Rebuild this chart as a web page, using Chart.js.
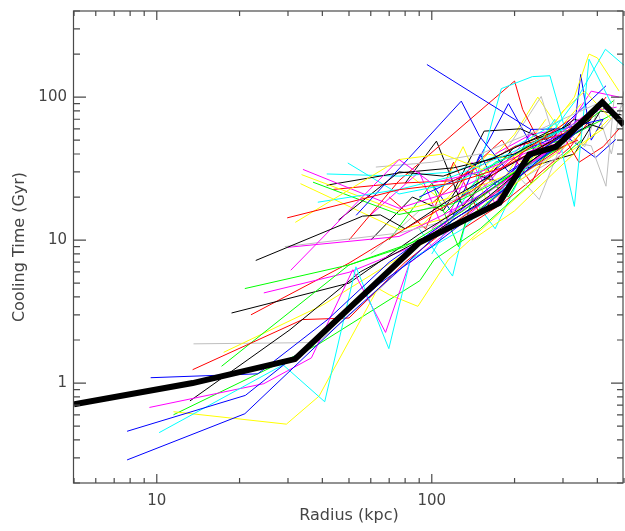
<!DOCTYPE html>
<html>
<head>
<meta charset="utf-8">
<script src="https://cdn.jsdelivr.net/npm/chart.js@4.4.1/dist/chart.umd.min.js"></script>
<style>
  body { margin: 0; background: #fff; }
  canvas { display: block; }
</style>
</head>
<body>
<canvas id="graph" width="625" height="531"></canvas>
<script>
// cooling time profiles, one pair of arrays per cluster (radius in kpc, time in Gyr)
const radius = [
    [7.8, 20.9, 50, 75, 120, 180, 260, 350],
    [7.8, 21, 40, 65, 100, 160, 240, 330],
    [9.5, 23.3, 42, 70, 110, 170, 260, 400],
    [10.2, 28.8, 40.8, 53, 69.8, 83.6, 130, 200, 310],
    [9.4, 24.5, 36.5, 51.6, 67.9, 83, 130, 210, 320],
    [11.5, 29.6, 38.9, 63.7, 70, 89, 115, 180, 280, 420],
    [11.5, 38.4, 90.5, 102, 150, 230, 350],
    [13.2, 30.5, 55, 100, 160, 240, 380],
    [13.5, 33.9, 50, 80, 120, 190, 300],
    [17.2, 50, 80, 130, 200, 300],
    [17.5, 40, 80, 140, 220, 350],
    [13.6, 38.4, 60, 100, 170, 280],
    [20.9, 50, 90, 140, 220, 350],
    [24.5, 50, 85, 140, 230, 340],
    [18.7, 50, 90, 150, 250, 380],
    [22, 50, 80, 140, 210, 320],
    [22.9, 56, 65, 80, 120, 200, 300],
    [30.7, 76, 100, 150, 250, 380],
    [29.2, 76, 120, 200, 300],
    [30, 76, 110, 180, 280],
    [29.8, 76, 120, 180, 280, 420],
    [31.9, 76, 110, 160, 250],
    [38.5, 76, 120, 190, 300],
    [45.8, 76, 110, 170, 280],
    [53.1, 128, 149, 190, 260, 330],
    [33.3, 76, 110, 160, 260],
    [33.6, 76, 120, 200, 320],
    [34, 76, 120, 200, 300],
    [37, 76, 120, 190, 300],
    [41.5, 76, 120, 200, 320],
    [43.8, 76, 120, 200, 300],
    [41.5, 76, 120, 180, 300],
    [49.5, 76, 120, 200, 330],
    [62.6, 100, 150, 250, 400],
    [96, 229, 300, 420],
    [100, 145, 179, 232, 269, 308, 400],
    [280, 340, 428, 500],
    [250, 330, 373, 400, 480],
    [50, 76, 200, 214, 260, 340],
    [80, 104, 129.5, 200, 300],
    [60, 90, 130, 200, 246, 300, 380, 430, 460],
    [150, 220, 280, 330, 373, 450],
    [120, 200, 300, 394, 467],
    [90, 160, 220, 300, 360, 450],
    [100, 180, 230, 290, 343, 420, 480],
    [120, 155, 210, 260, 330, 420],
    [110, 170, 240, 300, 360, 450],
    [100, 160, 230, 290, 380, 470],
    [140, 190, 250, 290, 340, 420, 500],
    [90, 140, 190, 240, 320, 430],
    [130, 180, 240, 320, 430],
    [140, 200, 280, 350, 440],
    [150, 200, 260, 340, 460],
    [170, 230, 310, 380, 480],
    [200, 260, 330, 410, 490],
    [300, 360, 400, 450, 500],
    [150, 200, 243, 290, 350],
    [280, 330, 348, 380, 420],
    [60, 90, 110, 140, 170, 220, 300],
    [70, 100, 125, 150, 190, 260],
    [80, 105, 130, 160, 200, 260],
    [90, 119, 140, 170, 230],
    [70, 95, 120, 150, 200, 270],
    [60, 85, 110, 135, 180, 250],
    [100, 120, 150, 180, 230]
]
const coolingTime = [
    [0.29, 0.61, 3.0, 6, 14, 22, 40, 60],
    [0.46, 0.82, 2.2, 5, 9, 18, 35, 55],
    [1.09, 1.16, 2.8, 7, 13, 25, 45, 80],
    [0.45, 1.34, 0.74, 6.5, 1.74, 7.3, 12, 28, 50],
    [0.675, 0.99, 1.5, 6.2, 2.26, 6.9, 14, 30, 55],
    [0.63, 0.516, 0.81, 4.6, 4.15, 3.44, 7.3, 16, 35, 60],
    [0.60, 1.85, 5.2, 7.3, 12, 25, 50],
    [0.75, 2.36, 6, 11, 20, 38, 70],
    [1.24, 2.78, 2.85, 7, 13, 25, 45],
    [1.31, 6.7, 9, 16, 30, 45],
    [1.64, 3.5, 8, 15, 28, 55],
    [1.88, 1.92, 4, 10, 22, 40],
    [4.58, 6.7, 10, 15, 30, 60],
    [4.27, 5.95, 9, 18, 35, 60],
    [3.09, 5.0, 11, 20, 40, 65],
    [3.0, 6.9, 12, 22, 40, 70],
    [7.2, 14.7, 15, 12, 20, 35, 55],
    [6.15, 36.6, 25, 30, 45, 80],
    [9.0, 11.2, 14, 25, 40],
    [8.9, 10.6, 15, 25, 45],
    [14.3, 22.5, 25, 32, 50, 90],
    [13.3, 36.6, 40, 30, 50],
    [18.4, 22.6, 28, 40, 60],
    [13.8, 30, 28, 38, 60],
    [14.9, 93.7, 53.3, 30, 45, 60],
    [24.8, 11.8, 14, 22, 40],
    [28.7, 15.9, 20, 30, 60],
    [31.2, 16.7, 22, 35, 50],
    [25.4, 15.1, 18, 28, 50],
    [24.2, 29.5, 32, 40, 65],
    [22.6, 25, 26, 45, 55],
    [29, 28, 30, 40, 70],
    [34.6, 21, 25, 40, 65],
    [32.4, 35, 40, 60, 90],
    [169, 59.4, 60, 70],
    [8, 26.6, 114.6, 139, 141, 56, 80],
    [60, 100, 216, 167],
    [50, 100, 200, 188, 110],
    [10, 26, 129.5, 82, 40, 50],
    [25, 49.2, 17.2, 45, 60],
    [8, 16, 20, 30, 19.2, 50, 45.6, 23.8, 96.6],
    [20, 35, 70, 17.2, 184, 90],
    [18, 40, 55, 37.7, 50.6],
    [12, 40, 35, 80, 110, 70],
    [18, 50, 25, 60, 35, 45, 60],
    [22, 57.8, 60, 50, 70, 60],
    [15, 35, 45, 50, 60, 75],
    [12, 25, 55, 40, 80, 85],
    [20, 45, 101, 40, 70, 60, 90],
    [20, 30, 90, 40, 70, 120],
    [12, 18, 28, 45, 100],
    [10, 16, 30, 45, 70],
    [30, 40, 55, 60, 95],
    [40, 55, 60, 110, 100],
    [30, 35, 40, 80, 75],
    [60, 45, 80, 40, 110],
    [30, 55, 100, 60, 90],
    [50, 60, 144, 50, 70],
    [15, 30, 12, 35, 18, 45, 50],
    [10, 25, 9, 30, 20, 55],
    [30, 20, 45, 18, 35, 70],
    [12, 5.6, 20, 12, 40],
    [20, 12, 35, 15, 30, 60],
    [10, 20, 16, 30, 25, 45],
    [25, 15, 40, 20, 60]
]
const lineColour = [
    'blue', 'blue', 'blue', 'cyan', 'magenta', 'yellow', 'green', 'black',
    'red', 'green', 'yellow', 'gray', 'green', 'magenta', 'black', 'red',
    'black', 'magenta', 'gray', 'magenta', 'red', 'yellow', 'cyan', 'black',
    'blue', 'yellow', 'yellow', 'magenta', 'green', 'black', 'red', 'cyan',
    'cyan', 'gray', 'blue', 'cyan', 'cyan', 'yellow', 'red', 'black',
    'gray', 'cyan', 'blue', 'yellow', 'red', 'black', 'green', 'magenta',
    'gray', 'blue', 'red', 'yellow', 'green', 'magenta', 'black', 'gray',
    'yellow', 'blue', 'magenta', 'green', 'yellow', 'cyan', 'red', 'black',
    'blue'
]

// thick black line (mean profile)
const medianRadius = [5, 13.5, 31.8, 90, 98, 176, 226, 283, 417, 500]
const medianTime = [0.71, 1.0, 1.47, 9.6, 10.4, 18.2, 39.7, 44.9, 92, 64]

// axis ticks
const xTicks = [5, 6, 7, 8, 9, 10, 20, 30, 40, 50, 60, 70, 80, 90, 100, 200, 300, 400, 500]
const yTicks = [0.2, 0.3, 0.4, 0.5, 0.6, 0.7, 0.8, 0.9, 1, 2, 3, 4, 5, 6, 7, 8, 9,
    10, 20, 30, 40, 50, 60, 70, 80, 90, 100, 200, 300, 400]
const tickLabels = [1, 10, 100]

const idlColours = {
    black: '#000000', red: '#ff0000', green: '#00ff00', blue: '#0000ff',
    cyan: '#00ffff', magenta: '#ff00ff', yellow: '#ffff00', gray: '#bebebe'
}

let datasets = [{
    data: medianRadius.map((r, i) => ({x: r, y: medianTime[i]})),
    borderColor: '#000',
    borderWidth: 6,
    borderJoinStyle: 'miter',
    order: 0
}]
for (let i = 0; i < radius.length; i++) {
    datasets.push({
        data: radius[i].map((r, j) => ({x: r, y: coolingTime[i][j]})),
        borderColor: idlColours[lineColour[i]],
        borderWidth: 1,
        order: 1
    })
}

const isDecade = v => Math.abs(Math.log10(v) - Math.round(Math.log10(v))) < 1e-9

// no extra padding from the (mostly empty) tick labels
const noPad = s => { s.paddingTop = 0; s.paddingBottom = 0; s.paddingLeft = 0; s.paddingRight = 0 }

// IDL style box with inward ticks on all four sides
const frame = {
    id: 'frame',
    afterDatasetsDraw(chart) {
        let {ctx, chartArea: a, scales: {x, y}} = chart
        ctx.save()
        ctx.strokeStyle = '#4a4a4a'
        ctx.lineWidth = 1.2
        ctx.strokeRect(a.left - 0.5, a.top, a.right - a.left - 0.5, a.bottom - a.top)
        ctx.beginPath()
        for (let v of xTicks) {
            let px = x.getPixelForValue(v)
            let len = isDecade(v) ? 9 : 5
            ctx.moveTo(px, a.bottom); ctx.lineTo(px, a.bottom - len)
            ctx.moveTo(px, a.top); ctx.lineTo(px, a.top + len)
        }
        for (let v of yTicks) {
            let py = y.getPixelForValue(v)
            let len = isDecade(v) ? 12 : 6
            ctx.moveTo(a.left - 0.5, py); ctx.lineTo(a.left + len, py)
            ctx.moveTo(a.right - 1, py); ctx.lineTo(a.right - 1 - len, py)
        }
        ctx.stroke()
        ctx.restore()
    }
}

const textColour = '#444'
new Chart(document.getElementById('graph'), {
    type: 'line',
    data: {datasets: datasets},
    options: {
        responsive: false,
        animation: false,
        devicePixelRatio: 1,
        layout: {padding: {top: 11, right: 1, left: 0, bottom: 0}},
        datasets: {line: {pointRadius: 0, tension: 0, clip: 0, fill: false}},
        scales: {
            x: {
                type: 'logarithmic',
                min: 5,
                max: 500,
                afterBuildTicks: s => { s.ticks = xTicks.map(v => ({value: v})) },
                afterFit: s => { s.height = 48; noPad(s) },
                grid: {display: false, drawTicks: false},
                border: {display: false},
                ticks: {
                    autoSkip: false,
                    maxRotation: 0,
                    padding: 9,
                    color: textColour,
                    font: {family: 'DejaVu Sans', size: 15},
                    callback: v => tickLabels.includes(v) ? String(v) : ''
                },
                title: {
                    display: true,
                    text: 'Radius (kpc)',
                    color: textColour,
                    font: {family: 'DejaVu Sans', size: 16},
                    padding: {top: 0, bottom: 6}
                }
            },
            y: {
                type: 'logarithmic',
                min: 0.2,
                max: 400,
                afterBuildTicks: s => { s.ticks = yTicks.map(v => ({value: v})) },
                afterFit: s => { s.width = 74; noPad(s) },
                grid: {display: false, drawTicks: false},
                border: {display: false},
                ticks: {
                    autoSkip: false,
                    padding: 7,
                    color: textColour,
                    font: {family: 'DejaVu Sans', size: 15},
                    callback: v => tickLabels.includes(v) ? String(v) : ''
                },
                title: {
                    display: true,
                    text: 'Cooling Time (Gyr)',
                    color: textColour,
                    font: {family: 'DejaVu Sans', size: 16},
                    padding: {top: 10, bottom: 0}
                }
            }
        },
        plugins: {legend: {display: false}, tooltip: {enabled: false}}
    },
    plugins: [frame]
})
</script>
</body>
</html>
